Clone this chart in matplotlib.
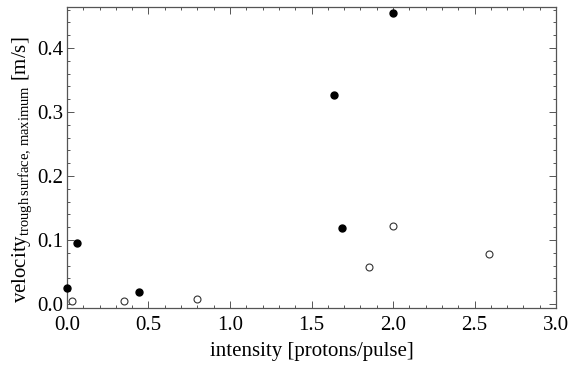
import matplotlib
matplotlib.use("Agg")
import matplotlib.pyplot as plt
from matplotlib.ticker import MultipleLocator

plt.rcParams['font.family'] = ['Liberation Serif', 'DejaVu Serif']
plt.rcParams['mathtext.fontset'] = 'custom'
plt.rcParams['mathtext.rm'] = 'Liberation Serif'
plt.rcParams['mathtext.it'] = 'Liberation Serif:italic'

# filled points
filled_x = [0.0, 0.06, 0.44, 1.64, 1.69, 2.0]
filled_y = [0.025, 0.095, 0.019, 0.327, 0.119, 0.455]
# open points
open_x = [0.03, 0.35, 0.80, 1.85, 2.0, 2.59]
open_y = [0.005, 0.005, 0.008, 0.058, 0.122, 0.078]

fig = plt.figure(figsize=(5.79, 3.68), dpi=100)
ax = fig.add_axes([0.1157, 0.163, 0.8446, 0.818])

ax.plot(filled_x, filled_y, 'o', color='black', markersize=5, clip_on=False, zorder=3)
ax.plot(open_x, open_y, 'o', markerfacecolor='white', markeredgecolor='#333333',
        markeredgewidth=0.8, markersize=5, clip_on=False, zorder=3)

ax.set_xlim(0, 3.0)
ax.set_ylim(-0.00625, 0.464)
ax.xaxis.set_major_locator(MultipleLocator(0.5))
ax.xaxis.set_minor_locator(MultipleLocator(0.1))
ax.yaxis.set_major_locator(MultipleLocator(0.1))
ax.yaxis.set_minor_locator(MultipleLocator(0.02))
ax.xaxis.set_major_formatter(plt.FormatStrFormatter('%.1f'))
ax.yaxis.set_major_formatter(plt.FormatStrFormatter('%.1f'))

frame_color = '#555555'
for s in ax.spines.values():
    s.set_color(frame_color)
    s.set_linewidth(0.9)
ax.tick_params(which='both', direction='in', top=True, right=True, color=frame_color,
               labelsize=15, width=0.7)
ax.tick_params(which='major', length=5)
ax.tick_params(which='minor', length=2.5)
ax.tick_params(axis='x', which='major', pad=5.5)
ax.tick_params(axis='y', which='major', pad=2.5)

ax.set_xlabel('intensity [protons/pulse]', fontsize=15, labelpad=5)
ax.set_ylabel(r'velocity$_{\mathrm{trough\,surface,\,maximum}}$ [m/s]', fontsize=15)
ax.yaxis.set_label_coords(-0.068, 0.46)

fig.savefig('out.png', dpi=100)
